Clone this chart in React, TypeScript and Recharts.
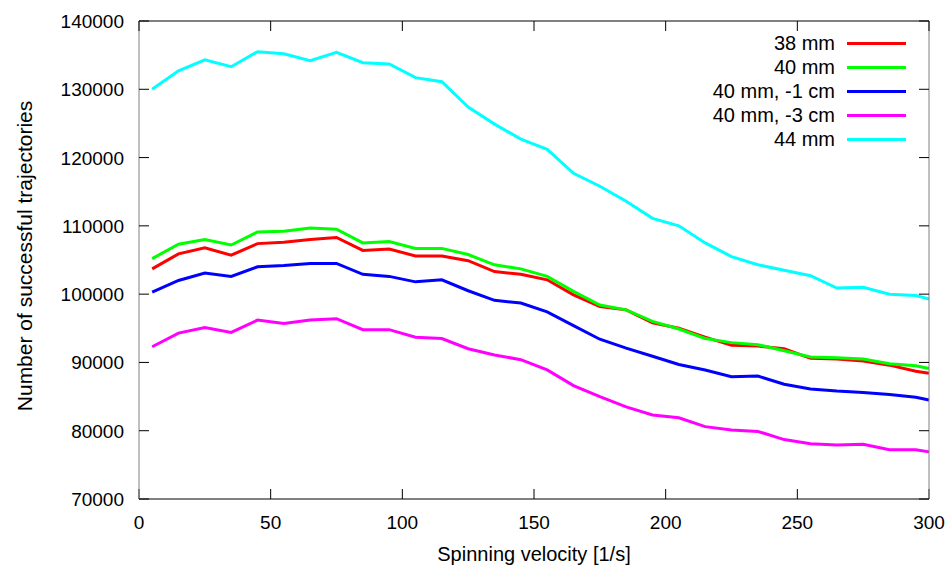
import React from "react";
import { LineChart, Line, XAxis, YAxis, Legend, Label } from "recharts";

// spinning velocity [1/s]
const velocity = [5, 15, 25, 35, 45, 55, 65, 75, 85, 95, 105, 115, 125, 135, 145, 155, 165, 175, 185, 195, 205, 215, 225, 235, 245, 255, 265, 275, 285, 295, 300];

const mm38 = [103700, 105900, 106800, 105700, 107400, 107600, 108000, 108300, 106400, 106600, 105600, 105600, 104900, 103300, 102900, 102100, 99900, 98200, 97700, 95800, 95000, 93700, 92500, 92400, 92000, 90600, 90500, 90200, 89600, 88700, 88400];
const mm40 = [105200, 107300, 108000, 107200, 109100, 109200, 109700, 109500, 107500, 107700, 106700, 106700, 105800, 104300, 103700, 102600, 100400, 98400, 97700, 96000, 94900, 93500, 92900, 92600, 91700, 90800, 90700, 90500, 89800, 89500, 89100];
const mm40m1 = [100300, 102000, 103100, 102600, 104000, 104200, 104500, 104500, 102900, 102600, 101800, 102100, 100500, 99100, 98700, 97400, 95400, 93400, 92100, 90900, 89700, 88900, 87900, 88000, 86800, 86100, 85800, 85600, 85300, 84900, 84500];
const mm40m3 = [92300, 94300, 95100, 94400, 96200, 95700, 96200, 96400, 94800, 94800, 93700, 93500, 92000, 91100, 90400, 88900, 86600, 85000, 83500, 82300, 81900, 80600, 80100, 79900, 78700, 78100, 77900, 78000, 77200, 77200, 76900];
const mm44 = [130000, 132700, 134300, 133300, 135500, 135200, 134200, 135400, 133900, 133700, 131700, 131100, 127400, 124900, 122700, 121200, 117700, 115800, 113600, 111100, 110000, 107500, 105500, 104300, 103500, 102700, 100900, 101000, 100000, 99800, 99300];

const xTicks = [0, 50, 100, 150, 200, 250, 300];
const yTicks = [70000, 80000, 90000, 100000, 110000, 120000, 130000, 140000];

const X_MIN = 0;
const X_MAX = 300;
const Y_MIN = 70000;
const Y_MAX = 140000;

const series = [
  { key: "s38", name: "38 mm", color: "#ff0000", values: mm38 },
  { key: "s40", name: "40 mm", color: "#00ff00", values: mm40 },
  { key: "s40m1", name: "40 mm, -1 cm", color: "#0000ff", values: mm40m1 },
  { key: "s40m3", name: "40 mm, -3 cm", color: "#ff00ff", values: mm40m3 },
  { key: "s44", name: "44 mm", color: "#00ffff", values: mm44 },
];

const data = velocity.map((v, i) => {
  const row: any = { v };
  series.forEach((s) => (row[s.key] = s.values[i]));
  return row;
});

const FONT = "'Liberation Sans', Arial, sans-serif";

// chart box
const W = 949;
const H = 569;
const M = { top: 21, right: 20, bottom: 0, left: 0 };
const Y_AXIS_W = 139;
const X_AXIS_H = 70;
const PLOT = {
  left: M.left + Y_AXIS_W,
  right: W - M.right,
  top: M.top,
  bottom: H - M.bottom - X_AXIS_H,
};

// ticks point inward (negative tickSize), margin brings the label anchor back onto the axis
const tickProps = { tickSize: -10, tickMargin: 10, tickLine: { stroke: "#000" }, interval: 0 as const };

const BottomTick = ({ x, y, payload }: any) => (
  <text x={x} y={y + 30} textAnchor="middle" fontSize={19} fontFamily={FONT} fill="#000">
    {payload.value}
  </text>
);

const LeftTick = ({ x, y, payload }: any) => (
  <text x={x - 15} y={y} dy={7} textAnchor="end" fontSize={19} fontFamily={FONT} fill="#000">
    {payload.value}
  </text>
);

const renderLegend = () => (
  <div style={{ fontFamily: FONT, fontSize: 20, color: "#000" }}>
    {series.map((s) => (
      <div key={s.key} style={{ display: "flex", alignItems: "center", height: 24 }}>
        <span style={{ width: 145, textAlign: "right", lineHeight: "24px" }}>{s.name}</span>
        <span style={{ width: 12 }} />
        <span style={{ width: 59, height: 3, background: s.color }} />
      </div>
    ))}
  </div>
);

// top and right side of the gnuplot-style box, with mirrored ticks
const BoxOverlay = () => {
  const sx = (v: number) => PLOT.left + ((v - X_MIN) / (X_MAX - X_MIN)) * (PLOT.right - PLOT.left);
  const sy = (v: number) => PLOT.bottom - ((v - Y_MIN) / (Y_MAX - Y_MIN)) * (PLOT.bottom - PLOT.top);
  return (
    <svg
      width={W}
      height={H}
      style={{ position: "absolute", left: 0, top: 0, pointerEvents: "none" }}
    >
      <line x1={PLOT.left} y1={PLOT.top} x2={PLOT.right} y2={PLOT.top} stroke="#000" />
      <line x1={PLOT.right} y1={PLOT.top} x2={PLOT.right} y2={PLOT.bottom} stroke="#808080" />
      {xTicks.map((t) => (
        <line key={`tx${t}`} x1={sx(t)} y1={PLOT.top} x2={sx(t)} y2={PLOT.top + 10} stroke="#000" />
      ))}
      {yTicks.map((t) => (
        <line key={`ty${t}`} x1={PLOT.right} y1={sy(t)} x2={PLOT.right - 10} y2={sy(t)} stroke="#000" />
      ))}
    </svg>
  );
};

export default function App() {
  return (
    <div style={{ position: "absolute", left: 0, top: 0, width: W, height: H, background: "#fff" }}>
      <LineChart width={W} height={H} data={data} margin={M}>
        <XAxis
          dataKey="v"
          type="number"
          domain={[X_MIN, X_MAX]}
          ticks={xTicks}
          height={X_AXIS_H}
          axisLine={{ stroke: "#000" }}
          tick={<BottomTick />}
          {...tickProps}
        >
          <Label
            content={({ viewBox }: any) => (
              <text
                x={viewBox.x + viewBox.width / 2}
                y={viewBox.y + 62}
                textAnchor="middle"
                fontSize={20}
                fontFamily={FONT}
                fill="#000"
              >
                Spinning velocity [1/s]
              </text>
            )}
          />
        </XAxis>
        <YAxis
          type="number"
          domain={[Y_MIN, Y_MAX]}
          ticks={yTicks}
          width={Y_AXIS_W}
          axisLine={{ stroke: "#808080" }}
          tick={<LeftTick />}
          {...tickProps}
        >
          <Label
            content={({ viewBox }: any) => {
              const cx = 24;
              const cy = viewBox.y + viewBox.height / 2 - 4;
              return (
                <text
                  x={cx}
                  y={cy}
                  transform={`rotate(-90 ${cx} ${cy})`}
                  textAnchor="middle"
                  dominantBaseline="central"
                  fontSize={21}
                  fontFamily={FONT}
                  fill="#000"
                >
                  Number of successful trajectories
                </text>
              );
            }}
          />
        </YAxis>
        <Legend
          layout="vertical"
          align="center"
          verticalAlign="middle"
          content={renderLegend}
          wrapperStyle={{ position: "absolute", top: 31, left: 690, width: 230 }}
        />
        {series.map((s) => (
          <Line
            key={s.key}
            type="linear"
            dataKey={s.key}
            name={s.name}
            stroke={s.color}
            strokeWidth={3}
            dot={false}
            activeDot={false}
            isAnimationActive={false}
          />
        ))}
      </LineChart>
      <BoxOverlay />
    </div>
  );
}
